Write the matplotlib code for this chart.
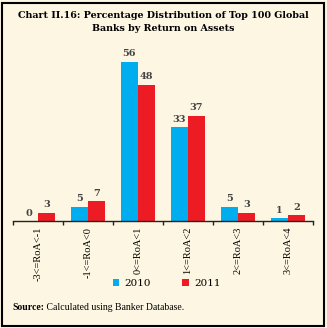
import numpy as np
import matplotlib.pyplot as plt
from matplotlib.patches import Rectangle

categories = ["-3<=RoA<-1", "-1<=RoA<0", "0<=RoA<1", "1<=RoA<2", "2<=RoA<3", "3<=RoA<4"]
share_2010 = [0, 5, 56, 33, 5, 1]
share_2011 = [3, 7, 48, 37, 3, 2]

BG = "#fdf6e3"
BLUE = "#00aeef"
RED = "#ed1c24"
SERIF = ["Liberation Serif", "DejaVu Serif"]
WIDE = ["DejaVu Serif"]

fig = plt.figure(figsize=(3.27, 3.28), dpi=100, facecolor=BG)
ax = fig.add_axes([0.039, 0.326, 0.918, 0.52], facecolor=BG)

x = np.arange(len(categories))
w = 0.34
b1 = ax.bar(x - w / 2, share_2010, w, color=BLUE, label="2010")
b2 = ax.bar(x + w / 2, share_2011, w, color=RED, label="2011")

for bars, vals in ((b1, share_2010), (b2, share_2011)):
    for rect, v in zip(bars, vals):
        ax.text(rect.get_x() + rect.get_width() / 2, v + 1.2, str(v),
                ha="center", va="bottom", fontsize=7, fontweight="bold",
                color="#444444", family=WIDE)

ax.set_xlim(-0.5, len(categories) - 0.5)
ax.set_ylim(0, 60)
for s in ["top", "right", "left"]:
    ax.spines[s].set_visible(False)
ax.spines["bottom"].set_color("#222222")
ax.spines["bottom"].set_linewidth(1.0)
ax.set_yticks([])

# ticks on group boundaries, labels at group centres
ax.set_xticks(np.arange(len(categories) + 1) - 0.5)
ax.set_xticklabels([])
ax.tick_params(axis="x", which="major", length=3, width=1, color="#222222")
ax.set_xticks(x, minor=True)
ax.set_xticklabels(categories, minor=True, rotation=90, fontsize=7.5, family=SERIF)
ax.tick_params(axis="x", which="minor", length=0, pad=4)

fig.legend(handles=[b1, b2], loc="center", bbox_to_anchor=(0.51, 0.135), ncol=2,
           frameon=False, handlelength=0.6, handleheight=0.6, columnspacing=3.0,
           handletextpad=0.5, prop={"family": WIDE, "size": 7.5})

fig.text(0.5, 0.953, "Chart II.16: Percentage Distribution of Top 100 Global",
         ha="center", va="center", fontsize=6.8, fontweight="bold", family=WIDE)
fig.text(0.5, 0.913, "Banks by Return on Assets",
         ha="center", va="center", fontsize=6.8, fontweight="bold", family=WIDE)

src = fig.text(0.037, 0.062, "Source:", ha="left", va="center", fontsize=7,
               fontweight="bold", family=SERIF)
ax.annotate(" Calculated using Banker Database.", xy=(1, 0.5), xycoords=src,
            ha="left", va="center", fontsize=7, family=SERIF,
            annotation_clip=False)

fig.patches.append(Rectangle((0.006, 0.006), 0.985, 0.985, transform=fig.transFigure,
                             fill=False, edgecolor="black", linewidth=1.5))

fig.savefig("out.png", dpi=100, facecolor=BG)
